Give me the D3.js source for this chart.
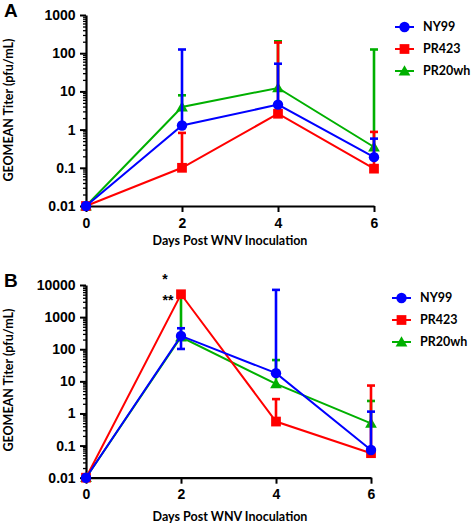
<!DOCTYPE html>
<html><head><meta charset="utf-8">
<script src="https://cdn.jsdelivr.net/npm/d3@7"></script>
<style>body{margin:0;background:#fff}</style>
</head><body>
<svg id="c" width="472" height="525"></svg>
<script>
// ---- data ----
const days = [0, 2, 4, 6];
const seriesNames = ["NY99", "PR423", "PR20wh"];
const yTicksA = [0.01, 0.1, 1, 10, 100, 1000];
const yTickLabelsA = ["0.01", "0.1", "1", "10", "100", "1000"];
const yTicksB = [0.01, 0.1, 1, 10, 100, 1000, 10000];
const yTickLabelsB = ["0.01", "0.1", "1", "10", "100", "1000", "10000"];
const xTickLabels = ["0", "2", "4", "6"];

// Panel A
const ny99A = [0.01, 1.28, 4.5, 0.19];
const ny99A_hi = [null, 125, 53, 0.58];
const ny99A_lo = [null, null, null, null];
const pr423A = [0.01, 0.1, 2.6, 0.095];
const pr423A_hi = [null, 0.82, 190, 0.87];
const pr423A_lo = [null, null, null, null];
const pr20A = [0.01, 3.9, 12.3, 0.35];
const pr20A_hi = [null, 7.9, 205, 125];
const pr20A_lo = [null, null, null, null];

// Panel B
const ny99B = [0.01, 260, 18, 0.073];
const ny99B_hi = [null, 450, 7050, 1.14];
const ny99B_lo = [null, 102, null, null];
const pr423B = [0.01, 5150, 0.56, 0.058];
const pr423B_hi = [null, null, 2.8, 7.4];
const pr423B_lo = [null, null, null, null];
const pr20B = [0.01, 240, 8.3, 0.49];
const pr20B_hi = [null, 5000, 46, 2.45];
const pr20B_lo = [null, null, null, null];

const colors = {NY99: "#0000ff", PR423: "#ff0000", PR20wh: "#00b000"};
const shapes = {NY99: d3.symbolCircle, PR423: d3.symbolSquare, PR20wh: d3.symbolTriangle};
const sizes = {NY99: 85, PR423: 95, PR20wh: 60};

const svg = d3.select("#c");
const tickFont = "'Liberation Sans', Arial, sans-serif";
const titleFont = "Lato, 'Open Sans', sans-serif";

function panel(cfg) {
  const x = d3.scaleLinear().domain([0, 6]).range([cfg.x0, cfg.x1]);
  const y = d3.scaleLog().domain(cfg.ydom).range([cfg.yb, cfg.yt]);
  const g = svg.append("g");

  // x axis
  const xa = g.append("g").attr("transform", `translate(0,${cfg.yb})`)
    .call(d3.axisBottom(x).tickValues(days).tickFormat((d, i) => xTickLabels[i]).tickSize(6).tickSizeOuter(0));
  xa.select(".domain").attr("stroke-width", 2.2);
  xa.selectAll(".tick line").attr("stroke-width", 2);
  xa.selectAll("text").attr("font-family", tickFont).attr("font-weight", "bold").attr("font-size", 14).attr("dy", "0.9em");

  // y minor ticks
  const minor = [];
  const lo = Math.log10(cfg.ydom[0]), hi = Math.log10(cfg.ydom[1]);
  for (let e = lo; e < hi; e++) for (let k = 2; k <= 9; k++) minor.push(k * Math.pow(10, e));
  g.append("g").attr("transform", `translate(${cfg.x0},0)`)
    .call(d3.axisLeft(y).tickValues(minor).tickFormat("").tickSize(3).tickSizeOuter(0))
    .call(s => s.select(".domain").remove())
    .selectAll(".tick line").attr("stroke-width", 1.3);
  const ya = g.append("g").attr("transform", `translate(${cfg.x0},0)`)
    .call(d3.axisLeft(y).tickValues(cfg.yticks).tickFormat((d, i) => cfg.ylabels[i]).tickSize(6).tickSizeOuter(0));
  ya.select(".domain").attr("stroke-width", 2.2);
  ya.selectAll(".tick line").attr("stroke-width", 2);
  ya.selectAll("text").attr("font-family", tickFont).attr("font-weight", "bold").attr("font-size", 14).attr("dx", "-0.1em");

  // titles
  g.append("text").attr("x", 230).attr("y", cfg.xtitleY).attr("text-anchor", "middle")
    .attr("font-family", titleFont).attr("font-weight", "bold").attr("font-size", 12.5)
    .text("Days Post WNV Inoculation");
  g.append("text").attr("transform", `translate(13,${cfg.ytitleY}) rotate(-90)`).attr("text-anchor", "middle")
    .attr("font-family", titleFont).attr("font-weight", "bold").attr("font-size", 12.5)
    .text("GEOMEAN Titer (pfu/mL)");
  g.append("text").attr("x", 4).attr("y", cfg.labelY).attr("font-family", tickFont)
    .attr("font-weight", "bold").attr("font-size", 19).text(cfg.label);

  // series (draw order: PR20wh, PR423, NY99)
  const order = ["PR20wh", "PR423", "NY99"];
  order.forEach(name => {
    const s = cfg.series[name];
    const col = colors[name];
    const sg = g.append("g");
    // error bars
    days.forEach((d, i) => {
      const top = s.hi[i] != null ? s.hi[i] : s.v[i];
      const bot = s.lo[i] != null ? s.lo[i] : s.v[i];
      if (top === s.v[i] && bot === s.v[i]) return;
      sg.append("line").attr("x1", x(d)).attr("x2", x(d)).attr("y1", y(top)).attr("y2", y(bot))
        .attr("stroke", col).attr("stroke-width", 2.6);
      [s.hi[i], s.lo[i]].forEach(c => {
        if (c == null) return;
        sg.append("line").attr("x1", x(d) - 4).attr("x2", x(d) + 4).attr("y1", y(c)).attr("y2", y(c))
          .attr("stroke", col).attr("stroke-width", 2.6);
      });
    });
    sg.append("path").datum(s.v)
      .attr("d", d3.line().x((v, i) => x(days[i])).y(v => y(v)))
      .attr("fill", "none").attr("stroke", col).attr("stroke-width", 2);
    sg.selectAll("path.m").data(s.v).join("path").attr("class", "m")
      .attr("transform", (v, i) => `translate(${x(days[i])},${y(v) + (name === "PR20wh" ? 1 : 0)})`)
      .attr("d", d3.symbol(shapes[name], sizes[name])).attr("fill", col);
  });

  // legend
  seriesNames.forEach((name, i) => {
    const ly = cfg.legY[i];
    const col = colors[name];
    g.append("line").attr("x1", cfg.legX).attr("x2", cfg.legX + 19).attr("y1", ly).attr("y2", ly)
      .attr("stroke", col).attr("stroke-width", 2);
    g.append("path").attr("transform", `translate(${cfg.legX + 9.5},${ly + (name === "PR20wh" ? 1 : 0)})`)
      .attr("d", d3.symbol(shapes[name], sizes[name])).attr("fill", col);
    g.append("text").attr("x", cfg.legX + 28).attr("y", ly).attr("dy", "0.35em")
      .attr("font-family", titleFont).attr("font-weight", "bold").attr("font-size", 12.5).text(name);
  });
}

panel({
  label: "A", labelY: 17, x0: 86, x1: 374, yb: 206, yt: 15, ydom: [0.01, 1000],
  yticks: yTicksA, ylabels: yTickLabelsA, xtitleY: 245, ytitleY: 110,
  legX: 395, legY: [27, 49, 71],
  series: {
    NY99: {v: ny99A, hi: ny99A_hi, lo: ny99A_lo},
    PR423: {v: pr423A, hi: pr423A_hi, lo: pr423A_lo},
    PR20wh: {v: pr20A, hi: pr20A_hi, lo: pr20A_lo}
  }
});
panel({
  label: "B", labelY: 287, x0: 86, x1: 371, yb: 477.7, yt: 285, ydom: [0.01, 10000],
  yticks: yTicksB, ylabels: yTickLabelsB, xtitleY: 521, ytitleY: 380,
  legX: 392, legY: [298, 320, 342],
  series: {
    NY99: {v: ny99B, hi: ny99B_hi, lo: ny99B_lo},
    PR423: {v: pr423B, hi: pr423B_hi, lo: pr423B_lo},
    PR20wh: {v: pr20B, hi: pr20B_hi, lo: pr20B_lo}
  }
});

// significance marks
svg.append("text").attr("x", 165).attr("y", 284).attr("text-anchor", "middle")
  .attr("font-family", tickFont).attr("font-weight", "bold").attr("font-size", 14).text("*");
svg.append("text").attr("x", 168).attr("y", 305).attr("text-anchor", "middle")
  .attr("font-family", tickFont).attr("font-weight", "bold").attr("font-size", 14).text("**");
</script>
</body></html>
